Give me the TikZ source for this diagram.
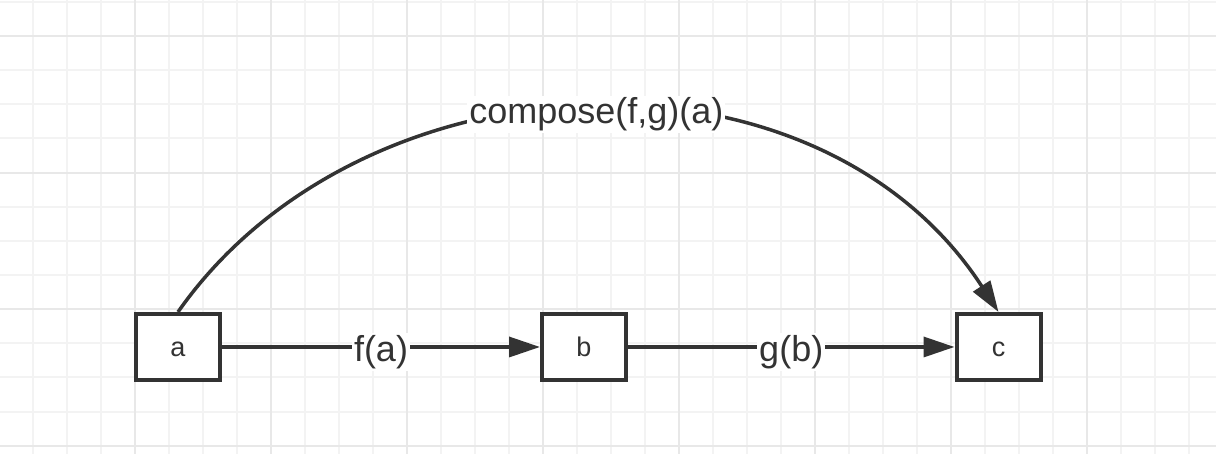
\documentclass[tikz,border=0pt]{standalone}
\usepackage{fontspec}
\setmainfont{Liberation Sans}
\usetikzlibrary{arrows.meta}
\definecolor{inkgray}{HTML}{333333}
\definecolor{minorgrid}{HTML}{F3F3F3}
\definecolor{majorgrid}{HTML}{E8E8E8}

\begin{document}
\begin{tikzpicture}[x=0.5pt, y=0.5pt,
    >={Triangle[length=15.5pt, width=10pt]},
    box/.style={
        rectangle,
        draw=inkgray,
        line width=2pt,
        fill=white,
        minimum width=42pt,
        minimum height=33pt,
        inner sep=0pt,
        text height=10pt,
        text depth=0pt,
        text=inkgray,
        font=\fontsize{13.5}{15}\selectfont
    },
    edge_label/.style={
        fill=white,
        inner sep=1pt,
        text=inkgray,
        font=\fontsize{18}{21}\selectfont
    },
    conn/.style={
        inkgray,
        line width=1.75pt
    }
]
    \useasboundingbox (0, 0) rectangle (1216, 454);
    % background grid
    \fill[white] (0, 0) rectangle (1216, 454);
    \foreach \i in {0,...,36}
    {
        \draw[minorgrid, line width=1pt] (-1 + 34*\i, 0) -- (-1 + 34*\i, 454);
    }
    \foreach \j in {0,...,13}
    {
        \draw[minorgrid, line width=1pt] (0, 452.15 - 34.15*\j) -- (1216, 452.15 - 34.15*\j);
    }
    \foreach \i in {0,...,9}
    {
        \draw[majorgrid, line width=1pt] (-1 + 136*\i, 0) -- (-1 + 136*\i, 454);
    }
    \foreach \j in {0,...,3}
    {
        \draw[majorgrid, line width=1pt] (0, 418 - 136.6*\j) -- (1216, 418 - 136.6*\j);
    }

    % boxes
    \node (a) [box] at (178, 107) {a};
    \node (b) [box] at (584, 107) {b};
    \node (c) [box] at (998.5, 107) {c};

    % arrows
    \draw[->, conn] (a) to node[edge_label, yshift=-2.5pt] {f(a)} (b);
    \draw[->, conn] (b) to node[edge_label, yshift=-2.5pt] {g(b)} (c);
    \draw[->, conn] (a.north) to[out=55, in=123, out looseness=1.0, in looseness=1.05]
        node[edge_label, xshift=4pt, yshift=-3.25pt] {compose(f,g)(a)} (c.north);
\end{tikzpicture}
\end{document}
